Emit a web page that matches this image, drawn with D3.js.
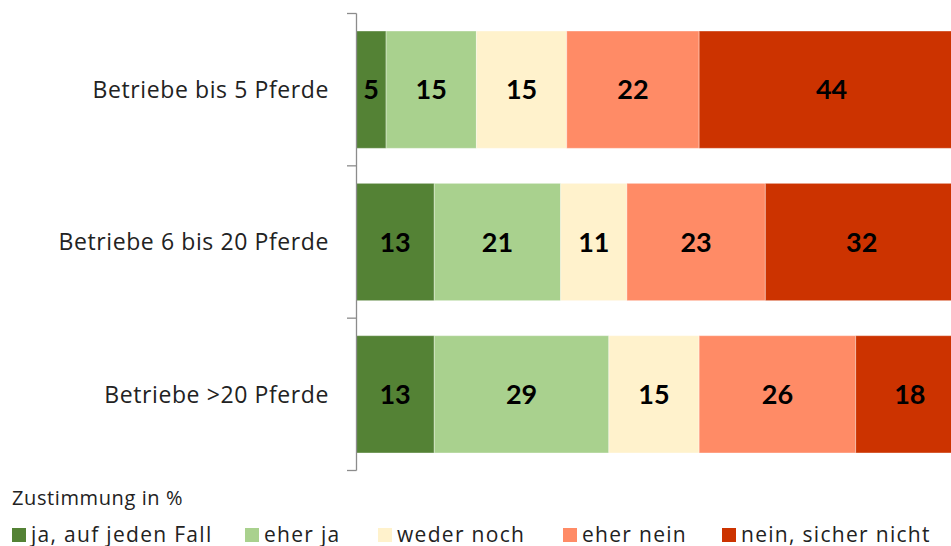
<!DOCTYPE html>
<html>
<head>
<meta charset="utf-8">
<script src="https://cdn.jsdelivr.net/npm/d3@7"></script>
<style>
  body { margin: 0; background: #fff; }
  text { font-family: "Open Sans", Lato, sans-serif; }
</style>
</head>
<body>
<div id="vis"></div>
<script>
const width = 951, height = 546;

// data
const categories = ['Betriebe bis 5 Pferde', 'Betriebe 6 bis 20 Pferde', 'Betriebe >20 Pferde'];
const answers = ['ja, auf jeden Fall', 'eher ja', 'weder noch', 'eher nein', 'nein, sicher nicht'];
const colors = ['#548235', '#a9d18e', '#fff2cc', '#ff8b66', '#cc3300'];
const values = [
  [5, 15, 15, 22, 44],
  [13, 21, 11, 23, 32],
  [13, 29, 15, 26, 18]
];
const legendTitle = 'Zustimmung in %';

const svg = d3.select('#vis')
  .append('svg')
  .attr('width', width)
  .attr('height', height);

const xScale = d3.scaleLinear().domain([0, 100]).range([356, 958]);
const yScale = d3.scaleBand().domain(categories).range([13.5, 470.5]).paddingInner(0.23).paddingOuter(0.115);

// stacked segments
const rows = categories.map((c, i) => {
  let acc = 0;
  return values[i].map((v, j) => {
    const seg = { cat: c, k: j, v: v, x0: acc, x1: acc + v };
    acc += v;
    return seg;
  });
}).flat();

svg.selectAll('.seg')
  .data(rows)
  .join('rect')
  .attr('class', 'seg')
  .attr('x', d => xScale(d.x0))
  .attr('y', d => yScale(d.cat))
  .attr('width', d => xScale(d.x1) - xScale(d.x0))
  .attr('height', yScale.bandwidth())
  .style('fill', d => colors[d.k])
  .style('stroke', 'rgba(255,255,255,0.35)')
  .style('stroke-width', 1);

svg.selectAll('.val')
  .data(rows)
  .join('text')
  .attr('class', 'val')
  .attr('x', d => (xScale(d.x0) + xScale(d.x1)) / 2)
  .attr('y', d => yScale(d.cat) + yScale.bandwidth() / 2)
  .attr('dy', '0.36em')
  .attr('text-anchor', 'middle')
  .style('font-family', 'Lato, sans-serif')
  .style('font-size', '27px')
  .style('font-weight', 'bold')
  .style('fill', '#000')
  .text(d => d.v);

// y axis with ticks between bands
const axis = svg.append('g').attr('class', 'axis');
axis.append('line')
  .attr('x1', 356.5).attr('x2', 356.5)
  .attr('y1', yScale.range()[0]).attr('y2', yScale.range()[1])
  .style('stroke', '#8c8c8c').style('stroke-width', 1.3);

const tickYs = [yScale.range()[0]].concat(categories.map(c => yScale(c) + yScale.bandwidth() + yScale.step() * yScale.paddingInner() / 2));
tickYs[tickYs.length - 1] = yScale.range()[1];
axis.selectAll('.tick')
  .data(tickYs)
  .join('line')
  .attr('x1', 347).attr('x2', 356.5)
  .attr('y1', d => d).attr('y2', d => d)
  .style('stroke', '#8c8c8c').style('stroke-width', 1.3);

axis.selectAll('.cat')
  .data(categories)
  .join('text')
  .attr('class', 'cat')
  .attr('x', 329)
  .attr('y', d => yScale(d) + yScale.bandwidth() / 2)
  .attr('dy', '0.36em')
  .attr('text-anchor', 'end')
  .style('font-size', '23px')
  .style('letter-spacing', '0.6px')
  .style('fill', '#222')
  .text(d => d);

// legend
svg.append('text')
  .attr('x', 12).attr('y', 505)
  .style('font-size', '20px')
  .style('letter-spacing', '0.6px')
  .style('fill', '#222')
  .text(legendTitle);

const legendX = [12, 245, 378, 563, 722];
const lg = svg.selectAll('.lg')
  .data(answers)
  .join('g')
  .attr('class', 'lg')
  .attr('transform', (d, i) => `translate(${legendX[i]},0)`);
lg.append('rect')
  .attr('x', 0).attr('y', 528)
  .attr('width', 14).attr('height', 14)
  .style('fill', (d, i) => colors[i]);
lg.append('text')
  .attr('x', 19).attr('y', 542)
  .style('font-size', '21px')
  .style('letter-spacing', '1.3px')
  .style('fill', '#222')
  .text(d => d);
</script>
</body>
</html>
